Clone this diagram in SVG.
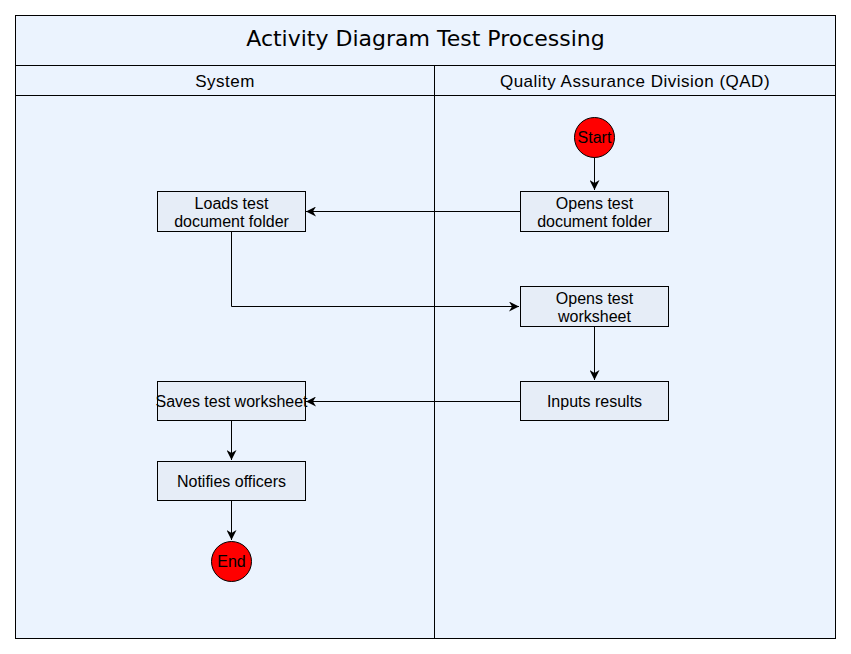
<svg xmlns="http://www.w3.org/2000/svg" width="851" height="654" viewBox="0 0 851 654">
<style>
.lane{fill:#EBF3FE;stroke:#000;stroke-width:1}
.box{fill:#E6EDF7;stroke:#000;stroke-width:1}
.term{fill:#FF0000;stroke:#000;stroke-width:1}
.t{font-family:"Liberation Sans",Arial,sans-serif;font-size:16px;fill:#000;text-anchor:middle}
.h{font-family:"Liberation Sans",Arial,sans-serif;font-size:17px;letter-spacing:0.5px;fill:#000;text-anchor:middle}
.title{font-family:"DejaVu Sans",Verdana,sans-serif;font-size:22px;fill:#000;text-anchor:middle}
.c{fill:none;stroke:#000;stroke-width:1}
</style>
<defs>
<marker id="arr" markerWidth="12" markerHeight="10" refX="10" refY="5" orient="auto" markerUnits="userSpaceOnUse">
<path d="M0,0 L10,5 L0,10 L3,5 Z" fill="#000"/>
</marker>
</defs>
<rect width="851" height="654" fill="#fff"/>
<g id="frame">
<rect class="lane" x="15.5" y="15.5" width="820" height="623"/>
<line class="c" x1="15.5" y1="65.5" x2="835.5" y2="65.5"/>
<line class="c" x1="15.5" y1="95.5" x2="835.5" y2="95.5"/>
<line class="c" x1="434.5" y1="65.5" x2="434.5" y2="638.5"/>
<text class="title" x="425.5" y="46">Activity Diagram Test Processing</text>
<text class="h" x="225" y="87">System</text>
<text class="h" x="635" y="87">Quality Assurance Division (QAD)</text>
</g>
<g id="connectors">
<line class="c" x1="594.5" y1="157" x2="594.5" y2="190" marker-end="url(#arr)"/>
<line class="c" x1="520" y1="211.5" x2="306" y2="211.5" marker-end="url(#arr)"/>
<polyline class="c" points="231.5,231 231.5,306.5 519,306.5" marker-end="url(#arr)"/>
<line class="c" x1="594.5" y1="326" x2="594.5" y2="380" marker-end="url(#arr)"/>
<line class="c" x1="520" y1="401.5" x2="306" y2="401.5" marker-end="url(#arr)"/>
<line class="c" x1="231.5" y1="420" x2="231.5" y2="460" marker-end="url(#arr)"/>
<line class="c" x1="231.5" y1="500" x2="231.5" y2="540" marker-end="url(#arr)"/>
</g>
<g id="start"><circle class="term" cx="594.5" cy="137.5" r="20"/><text class="t" x="594.5" y="143">Start</text></g>
<g id="opens-folder"><rect class="box" x="520.5" y="191.5" width="148" height="40"/><text class="t" x="594.5" y="208.5">Opens test</text><text class="t" x="594.5" y="227">document folder</text></g>
<g id="loads-folder"><rect class="box" x="157.5" y="191.5" width="148" height="40"/><text class="t" x="231.5" y="208.5">Loads test</text><text class="t" x="231.5" y="227">document folder</text></g>
<g id="opens-worksheet"><rect class="box" x="520.5" y="286.5" width="148" height="40"/><text class="t" x="594.5" y="303.5">Opens test</text><text class="t" x="594.5" y="322">worksheet</text></g>
<g id="inputs-results"><rect class="box" x="520.5" y="381.5" width="148" height="39"/><text class="t" x="594.5" y="407">Inputs results</text></g>
<g id="saves-worksheet"><rect class="box" x="157.5" y="381.5" width="148" height="39"/><text class="t" x="231.5" y="407">Saves test worksheet</text></g>
<g id="notifies"><rect class="box" x="157.5" y="461.5" width="148" height="39"/><text class="t" x="231.5" y="487">Notifies officers</text></g>
<g id="end"><circle class="term" cx="231.5" cy="561.5" r="20"/><text class="t" x="231.5" y="567">End</text></g>
</svg>
